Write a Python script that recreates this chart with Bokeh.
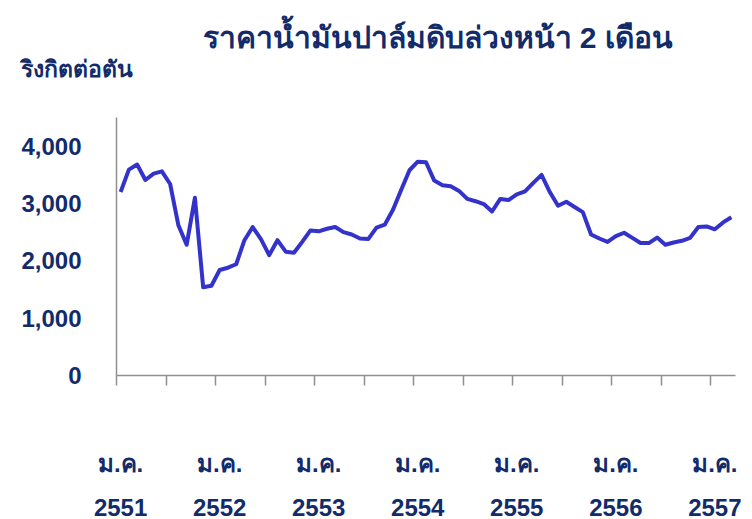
import numpy as np
from bokeh.plotting import figure
from bokeh.models import LinearAxis, FixedTicker, Range1d, Title, NumeralTickFormatter
from bokeh.embed import file_html
from bokeh.resources import INLINE

title_text = "ราคาน้ำมันปาล์มดิบล่วงหน้า 2 เดือน"
unit_text = "ริงกิตต่อตัน"
month_labels = ["ม.ค."] * 7
year_labels = ["2551", "2552", "2553", "2554", "2555", "2556", "2557"]
y_ticks = [0, 1000, 2000, 3000, 4000]
prices = [3200, 3590, 3680, 3410, 3520, 3560, 3340, 2620, 2280, 3100, 1540, 1565,
          1840, 1880, 1940, 2360, 2590, 2380, 2100, 2360, 2160, 2140, 2330, 2530,
          2515, 2560, 2590, 2500, 2460, 2390, 2380, 2580, 2630, 2890, 3240, 3580,
          3730, 3720, 3400, 3320, 3300, 3220, 3080, 3040, 2990, 2860, 3080, 3060,
          3160, 3210, 3360, 3500, 3200, 2960, 3030, 2940, 2850, 2460, 2390, 2330,
          2430, 2490, 2400, 2310, 2310, 2405, 2280, 2320, 2350, 2400, 2590, 2600,
          2550, 2670, 2760]

months = np.arange(len(prices))
NAVY = "#112b6b"
GRAY = "#8f8f8f"
FONT = "Liberation Sans"

p = figure(width=752, height=519, output_backend="svg", toolbar_location=None,
           x_range=Range1d(-0.5, 74.5), y_range=Range1d(0, 4500),
           min_border_left=116, min_border_right=17, min_border_top=117,
           min_border_bottom=144, background_fill_color="white",
           border_fill_color="white", outline_line_color=None)
p.grid.visible = False

p.line(months, prices, line_color="#3333cc", line_width=4, line_join="round")

# y axis
ya = p.yaxis[0]
ya.ticker = FixedTicker(ticks=y_ticks)
ya.formatter = NumeralTickFormatter(format="0,0")
ya.major_tick_in = 0
ya.major_tick_out = 0
ya.minor_tick_line_color = None
ya.axis_line_color = GRAY
ya.axis_line_width = 1.5
ya.major_label_standoff = 35
ya.major_label_text_font = FONT
ya.major_label_text_font_style = "bold"
ya.major_label_text_font_size = "24px"
ya.major_label_text_color = NAVY

# x axis: tick marks only (labels hidden)
xa = p.xaxis[0]
xa.ticker = FixedTicker(ticks=[-0.5 + 6 * k for k in range(13)])
xa.major_label_text_font_size = "0px"
xa.major_label_text_color = None
xa.major_label_standoff = 0
xa.major_tick_in = 0
xa.major_tick_out = 10
xa.major_tick_line_color = GRAY
xa.major_tick_line_width = 1.5
xa.minor_tick_line_color = None
xa.axis_line_color = GRAY
xa.axis_line_width = 1.5

jan_pos = [12 * k for k in range(len(year_labels))]

def label_axis(labels, standoff):
    ax = LinearAxis(ticker=FixedTicker(ticks=jan_pos),
                    major_label_overrides={pos: lab for pos, lab in zip(jan_pos, labels)},
                    axis_line_color=None, major_tick_line_color=None,
                    minor_tick_line_color=None, major_label_standoff=standoff,
                    major_label_text_font=FONT, major_label_text_font_style="bold",
                    major_label_text_font_size="24px", major_label_text_color=NAVY)
    p.add_layout(ax, "below")
    return ax

label_axis(month_labels, 58)
label_axis(year_labels, 13)

# titles above
p.add_layout(Title(text=unit_text, align="left", offset=-96, standoff=72,
                   text_font=FONT, text_font_style="bold", text_font_size="23px",
                   text_color=NAVY), "above")
p.add_layout(Title(text=title_text, align="left", offset=86, standoff=-73,
                   text_font=FONT, text_font_style="bold", text_font_size="30px",
                   text_color=NAVY), "above")

open("out.html", "w").write(file_html(p, INLINE))
